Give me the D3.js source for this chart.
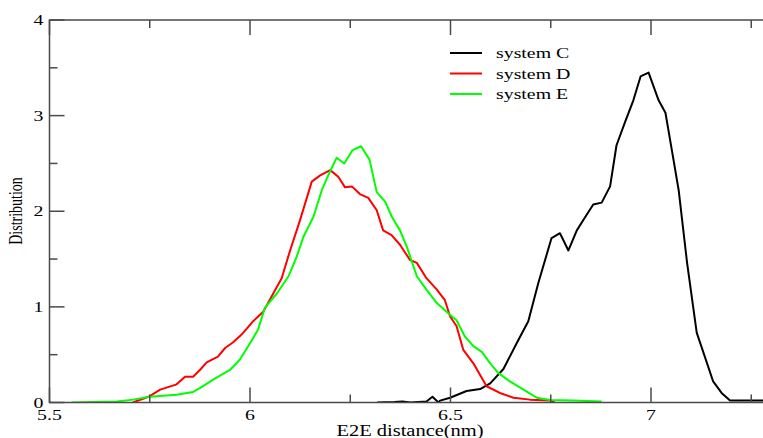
<!DOCTYPE html>
<html>
<head>
<meta charset="utf-8">
<script src="https://cdn.jsdelivr.net/npm/d3@7"></script>
<style>
  body { margin: 0; background: #fff; overflow: hidden; }
  svg { display: block; }
</style>
</head>
<body>
<div id="chart"></div>
<script>
// E2E distance (nm) vs distribution
var sysC_x = [6.317, 6.36, 6.38, 6.40, 6.44, 6.455, 6.47, 6.474, 6.499, 6.54, 6.574, 6.599, 6.632, 6.665, 6.694, 6.719, 6.752, 6.773, 6.794, 6.815, 6.836, 6.856, 6.877, 6.898, 6.914, 6.935, 6.956, 6.974, 6.994, 7.019, 7.036, 7.052, 7.069, 7.09, 7.114, 7.135, 7.155, 7.176, 7.197, 7.25, 7.29]
var sysC_y = [0, 0.005, 0.01, 0, 0.01, 0.06, 0, 0.02, 0.05, 0.12, 0.14, 0.20, 0.35, 0.62, 0.85, 1.25, 1.72, 1.77, 1.59, 1.80, 1.94, 2.07, 2.09, 2.26, 2.69, 2.93, 3.16, 3.41, 3.45, 3.16, 3.03, 2.64, 2.22, 1.46, 0.73, 0.47, 0.22, 0.10, 0.02, 0.02, 0.02]

var sysD_x = [5.708, 5.75, 5.776, 5.817, 5.838, 5.858, 5.875, 5.892, 5.92, 5.938, 5.958, 5.979, 6.008, 6.033, 6.058, 6.079, 6.1, 6.125, 6.154, 6.175, 6.2, 6.22, 6.237, 6.254, 6.274, 6.295, 6.316, 6.332, 6.353, 6.374, 6.399, 6.416, 6.44, 6.466, 6.486, 6.499, 6.515, 6.532, 6.557, 6.59, 6.623, 6.657, 6.698, 6.748, 6.76]
var sysD_y = [0, 0.066, 0.135, 0.19, 0.27, 0.27, 0.34, 0.42, 0.48, 0.57, 0.63, 0.71, 0.85, 0.95, 1.14, 1.30, 1.59, 1.91, 2.31, 2.375, 2.43, 2.36, 2.25, 2.26, 2.18, 2.14, 2.01, 1.80, 1.75, 1.65, 1.49, 1.46, 1.30, 1.18, 1.07, 0.90, 0.80, 0.55, 0.41, 0.17, 0.10, 0.05, 0.03, 0.02, 0]

var sysE_x = [5.555, 5.668, 5.709, 5.75, 5.817, 5.858, 5.875, 5.908, 5.95, 5.975, 6.0, 6.02, 6.037, 6.067, 6.096, 6.116, 6.133, 6.158, 6.179, 6.195, 6.216, 6.235, 6.256, 6.277, 6.298, 6.316, 6.337, 6.354, 6.374, 6.391, 6.416, 6.44, 6.466, 6.49, 6.515, 6.536, 6.557, 6.578, 6.599, 6.619, 6.648, 6.682, 6.715, 6.748, 6.806, 6.877]
var sysE_y = [0, 0.01, 0.03, 0.06, 0.08, 0.11, 0.15, 0.24, 0.34, 0.45, 0.62, 0.76, 0.99, 1.14, 1.32, 1.52, 1.73, 1.94, 2.22, 2.375, 2.56, 2.50, 2.64, 2.68, 2.54, 2.20, 2.10, 1.94, 1.80, 1.63, 1.32, 1.18, 1.04, 0.95, 0.86, 0.69, 0.59, 0.53, 0.41, 0.31, 0.22, 0.135, 0.05, 0.025, 0.02, 0.01]

var seriesNames = ["system C", "system D", "system E"]
var seriesColors = ["#000000", "#ff0000", "#00ff00"]
var xTicks = [5.5, 6, 6.5, 7]
var xMinor = [5.75, 6.25, 6.75, 7.25]
var yTicks = [0, 1, 2, 3, 4]
var yMinor = [0.5, 1.5, 2.5, 3.5]

var W = 763, H = 438
var padL = 49.5, padT = 20, padB = 402.5
var serif = "'Liberation Serif', 'Times New Roman', Times, serif"
var stretch = 1.28   // the source picture is widened a little

var x = d3.scaleLinear().domain([5.5, 7.3]).range([padL, padL + 1.8 * 401])
var y = d3.scaleLinear().domain([0, 4]).range([padB, padT])

var svg = d3.select("#chart").append("svg")
    .attr("width", W)
    .attr("height", H)
    .attr("font-family", serif)

function zip(xs, ys) {
  return xs.map(function(v, i) { return [v, ys[i]] })
}
var series = [zip(sysC_x, sysC_y), zip(sysD_x, sysD_y), zip(sysE_x, sysE_y)]

var line = d3.line()
    .x(function(d) { return x(d[0]) })
    .y(function(d) { return y(d[1]) })

svg.append("clipPath").attr("id", "clip")
  .append("rect").attr("x", padL).attr("y", padT)
  .attr("width", x.range()[1] - padL).attr("height", padB - padT)

svg.selectAll("path.series")
    .data(series)
  .enter().append("path")
    .attr("class", "series")
    .attr("clip-path", "url(#clip)")
    .attr("d", line)
    .style("fill", "none")
    .style("stroke", function(d, i) { return seriesColors[i] })
    .style("stroke-width", 2)
    .style("stroke-linejoin", "round")

// frame
var axisColor = "#4a4a4a"
svg.append("rect")
    .attr("x", padL).attr("y", padT)
    .attr("width", x.range()[1] - padL).attr("height", padB - padT)
    .style("fill", "none")
    .style("stroke", axisColor)
    .style("stroke-width", 1.5)

// ticks pointing inward, on bottom/top and left
function tickLines(vals, len, horiz) {
  vals.forEach(function(v) {
    if (horiz) {
      svg.append("line").attr("x1", x(v)).attr("x2", x(v))
        .attr("y1", padB).attr("y2", padB - len)
        .style("stroke", axisColor).style("stroke-width", 1.5)
      svg.append("line").attr("x1", x(v)).attr("x2", x(v))
        .attr("y1", padT).attr("y2", padT + len)
        .style("stroke", axisColor).style("stroke-width", 1.5)
    } else {
      svg.append("line").attr("x1", padL).attr("x2", padL + len)
        .attr("y1", y(v)).attr("y2", y(v))
        .style("stroke", axisColor).style("stroke-width", 1.5)
    }
  })
}
tickLines(xTicks, 15, true)
tickLines(xMinor, 8, true)
tickLines(yTicks, 15, false)
tickLines(yMinor, 8, false)

function place(px, py) {
  return "translate(" + px + "," + py + ") scale(" + stretch + ",1)"
}

svg.selectAll("text.xt")
    .data(xTicks)
  .enter().append("text")
    .attr("class", "xt")
    .attr("transform", function(d) { return place(x(d), 419.5) })
    .attr("text-anchor", "middle")
    .style("font-size", "15.5px")
    .text(function(d) { return d })

svg.selectAll("text.yt")
    .data(yTicks)
  .enter().append("text")
    .attr("class", "yt")
    .attr("transform", function(d) { return place(43.5, y(d) + 5) })
    .attr("text-anchor", "end")
    .style("font-size", "15.5px")
    .text(function(d) { return d })

svg.append("text")
    .attr("transform", place(410, 435.5))
    .attr("text-anchor", "middle")
    .style("font-size", "16px")
    .text("E2E distance(nm)")

svg.append("text")
    .attr("transform", "translate(22,211) rotate(-90) scale(1," + stretch + ")")
    .attr("text-anchor", "middle")
    .style("font-size", "14px")
    .text("Distribution")

var legend = svg.selectAll("g.legend")
    .data(seriesNames)
  .enter().append("g")
    .attr("transform", function(d, i) { return "translate(450," + (53 + i * 20.5) + ")" })
legend.append("line")
    .attr("x1", 0).attr("x2", 32)
    .style("stroke", function(d, i) { return seriesColors[i] })
    .style("stroke-width", 2)
legend.append("text")
    .attr("transform", place(46, 5))
    .style("font-size", "15.5px")
    .text(function(d) { return d })
</script>
</body>
</html>
